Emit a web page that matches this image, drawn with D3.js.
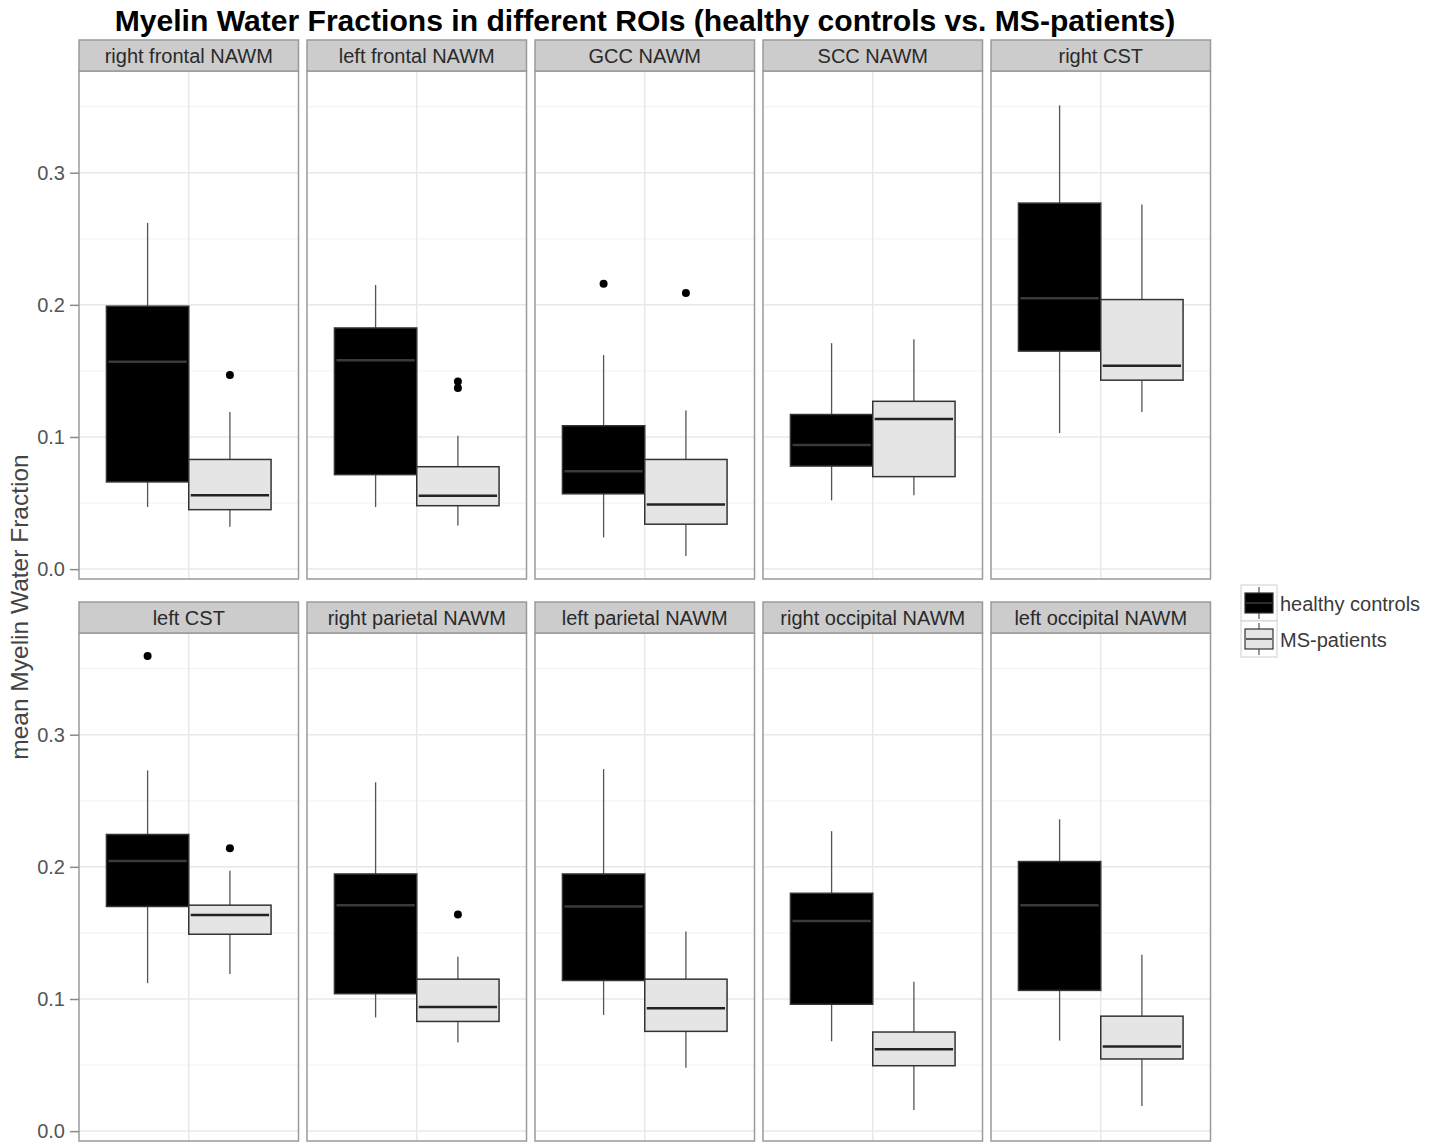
<!DOCTYPE html>
<html>
<head>
<meta charset="utf-8">
<script src="https://cdn.jsdelivr.net/npm/d3@7"></script>
<style>
  body { margin: 0; background: #fff; }
  svg { display: block; font-family: "Liberation Sans", Arial, sans-serif; }
</style>
</head>
<body>
<svg id="chart" width="1438" height="1143"></svg>
<script>
// ---------------- data ----------------
const rois = ["right frontal NAWM", "left frontal NAWM", "GCC NAWM", "SCC NAWM", "right CST",
              "left CST", "right parietal NAWM", "left parietal NAWM", "right occipital NAWM", "left occipital NAWM"];
const groups = ["healthy controls", "MS-patients"];

const hcLower    = [0.047, 0.047, 0.024, 0.052, 0.103, 0.112, 0.086, 0.088, 0.068, 0.0685];
const hcQ1       = [0.066, 0.0715, 0.057, 0.078, 0.165, 0.170, 0.104, 0.114, 0.096, 0.1065];
const hcMedian   = [0.157, 0.158, 0.074, 0.094, 0.205, 0.2045, 0.171, 0.170, 0.159, 0.171];
const hcQ3       = [0.199, 0.1825, 0.1085, 0.117, 0.277, 0.2245, 0.1946, 0.1946, 0.180, 0.204];
const hcUpper    = [0.262, 0.215, 0.162, 0.171, 0.351, 0.273, 0.264, 0.274, 0.227, 0.236];
const hcOutliers = [[], [], [0.216], [], [], [0.3595], [], [], [], []];

const msLower    = [0.032, 0.033, 0.010, 0.056, 0.119, 0.119, 0.067, 0.048, 0.016, 0.019];
const msQ1       = [0.045, 0.048, 0.034, 0.070, 0.143, 0.149, 0.083, 0.0755, 0.0495, 0.0546];
const msMedian   = [0.056, 0.0556, 0.049, 0.1136, 0.154, 0.1635, 0.094, 0.093, 0.062, 0.064];
const msQ3       = [0.083, 0.0775, 0.083, 0.127, 0.204, 0.171, 0.115, 0.115, 0.075, 0.087];
const msUpper    = [0.119, 0.101, 0.120, 0.174, 0.276, 0.197, 0.132, 0.151, 0.113, 0.1335];
const msOutliers = [[0.147], [0.142, 0.137], [0.209], [], [], [0.214], [0.164], [], [], []];

const yTicks = [0.0, 0.1, 0.2, 0.3];
const yMinorTicks = [0.05, 0.15, 0.25, 0.35];

const titleText = "Myelin Water Fractions in different ROIs (healthy controls vs. MS-patients)";
const yLabelText = "mean Myelin Water Fraction";

// ---------------- build stats table ----------------
const stats = rois.map((roi, i) => [
  { roi, group: groups[0], lower: hcLower[i], q1: hcQ1[i], median: hcMedian[i], q3: hcQ3[i], upper: hcUpper[i], outliers: hcOutliers[i] },
  { roi, group: groups[1], lower: msLower[i], q1: msQ1[i], median: msMedian[i], q3: msQ3[i], upper: msUpper[i], outliers: msOutliers[i] }
]);

// ---------------- layout ----------------
const svg = d3.select("#chart");
const nCols = 5;
const panelLeft0 = 79, panelStep = 228, panelW = 219.5;
const rowsLayout = [
  { stripTop: 40, plotTop: 71, plotBottom: 579 },
  { stripTop: 602, plotTop: 633, plotBottom: 1141 }
];

// y domain like ggplot: data range expanded by 5%
const allVals = stats.flat().flatMap(d => [d.lower, d.upper, ...d.outliers]);
const dMin = d3.min(allVals), dMax = d3.max(allVals);
const pad = (dMax - dMin) * 0.05;
const yDomain = [dMin - pad, dMax + pad];

const x = d3.scaleLinear().domain([0.4, 1.6]).range([0, panelW]);
const xOffset = d3.scaleOrdinal().domain(groups).range([-0.225, 0.225]);
const boxW = 0.45;
const fill = d3.scaleOrdinal().domain(groups).range(["#000000", "#e5e5e5"]);
const edge = "#333333";

// ---------------- title ----------------
const title = svg.append("text")
  .attr("x", 645).attr("y", 31)
  .attr("text-anchor", "middle")
  .attr("font-weight", "bold")
  .attr("font-size", 26)
  .attr("fill", "#000")
  .text(titleText);
const tl = title.node().getComputedTextLength();
title.attr("font-size", 26 * 1061 / tl);

// ---------------- panels ----------------
rois.forEach((roi, i) => {
  const row = Math.floor(i / nCols), col = i % nCols;
  const L = rowsLayout[row];
  const px = panelLeft0 + col * panelStep;
  const y = d3.scaleLinear().domain(yDomain).range([L.plotBottom, L.plotTop]);
  const g = svg.append("g").attr("transform", `translate(${px},0)`);

  g.append("rect").attr("x", 0).attr("y", L.plotTop).attr("width", panelW).attr("height", L.plotBottom - L.plotTop)
    .attr("fill", "#fff");

  g.selectAll(".minor").data(yMinorTicks.filter(t => t > yDomain[0] && t < yDomain[1])).enter().append("line")
    .attr("x1", 0).attr("x2", panelW).attr("y1", d => y(d)).attr("y2", d => y(d))
    .attr("stroke", "#f4f4f4").attr("stroke-width", 1.2);
  g.selectAll(".major").data(yTicks).enter().append("line")
    .attr("x1", 0).attr("x2", panelW).attr("y1", d => y(d)).attr("y2", d => y(d))
    .attr("stroke", "#e8e8e8").attr("stroke-width", 1.5);
  g.append("line").attr("x1", x(1)).attr("x2", x(1)).attr("y1", L.plotTop).attr("y2", L.plotBottom)
    .attr("stroke", "#e8e8e8").attr("stroke-width", 1.5);

  const bg = g.selectAll(".box").data(stats[i]).enter().append("g");
  const cx = d => x(1 + xOffset(d.group));
  bg.append("line").attr("x1", cx).attr("x2", cx).attr("y1", d => y(d.upper)).attr("y2", d => y(d.q3))
    .attr("stroke", "#555").attr("stroke-width", 1.3);
  bg.append("line").attr("x1", cx).attr("x2", cx).attr("y1", d => y(d.q1)).attr("y2", d => y(d.lower))
    .attr("stroke", "#555").attr("stroke-width", 1.3);
  bg.append("rect")
    .attr("x", d => x(1 + xOffset(d.group) - boxW / 2))
    .attr("width", d => x(1 + xOffset(d.group) + boxW / 2) - x(1 + xOffset(d.group) - boxW / 2))
    .attr("y", d => y(d.q3)).attr("height", d => y(d.q1) - y(d.q3))
    .attr("fill", d => fill(d.group)).attr("stroke", edge).attr("stroke-width", 1.5);
  bg.append("line")
    .attr("x1", d => x(1 + xOffset(d.group) - boxW / 2) + 2)
    .attr("x2", d => x(1 + xOffset(d.group) + boxW / 2) - 2)
    .attr("y1", d => y(d.median)).attr("y2", d => y(d.median))
    .attr("stroke", d => d.group === groups[0] ? "#3a3a3a" : "#222").attr("stroke-width", 2.5);
  bg.each(function(d) {
    d3.select(this).selectAll("circle").data(d.outliers).enter().append("circle")
      .attr("cx", cx(d)).attr("cy", v => y(v)).attr("r", 4).attr("fill", "#000");
  });

  g.append("rect").attr("x", 0).attr("y", L.plotTop).attr("width", panelW).attr("height", L.plotBottom - L.plotTop)
    .attr("fill", "none").attr("stroke", "#9a9a9a").attr("stroke-width", 1.5);

  g.append("rect").attr("x", 0).attr("y", L.stripTop).attr("width", panelW).attr("height", L.plotTop - L.stripTop)
    .attr("fill", "#cccccc").attr("stroke", "#9a9a9a").attr("stroke-width", 1.5);
  g.append("text").attr("x", panelW / 2).attr("y", (L.stripTop + L.plotTop) / 2 + 7)
    .attr("text-anchor", "middle").attr("font-size", 20).attr("fill", "#2a2a2a").text(roi);

  if (col === 0) {
    const ax = svg.append("g").attr("transform", `translate(${px},0)`)
      .call(d3.axisLeft(y).tickValues(yTicks).tickFormat(d3.format(".1f")).tickSize(9).tickPadding(5));
    ax.select(".domain").remove();
    ax.selectAll(".tick line").attr("stroke", "#8a8a8a").attr("stroke-width", 1.5);
    ax.selectAll(".tick text").attr("font-size", 20).attr("fill", "#555")
      .attr("font-family", "Liberation Sans, Arial, sans-serif");
  }
});

// ---------------- y label ----------------
svg.append("text")
  .attr("transform", "translate(28,607) rotate(-90)")
  .attr("text-anchor", "middle")
  .attr("font-size", 24.5)
  .attr("fill", "#444")
  .text(yLabelText);

// ---------------- legend ----------------
const legX = 1241, legY = 585, keyS = 36;
const lg = svg.append("g");
groups.forEach((grp, k) => {
  const ky = legY + k * keyS;
  lg.append("rect").attr("x", legX).attr("y", ky).attr("width", keyS).attr("height", keyS)
    .attr("fill", "#fff").attr("stroke", "#d0d0d0").attr("stroke-width", 1);
  const kcx = legX + keyS / 2;
  lg.append("line").attr("x1", kcx).attr("x2", kcx).attr("y1", ky + 2).attr("y2", ky + keyS - 2)
    .attr("stroke", "#555").attr("stroke-width", 1.2);
  lg.append("rect").attr("x", legX + 4).attr("y", ky + 8).attr("width", keyS - 8).attr("height", keyS - 16)
    .attr("fill", fill(grp)).attr("stroke", edge).attr("stroke-width", 1.2);
  lg.append("line").attr("x1", legX + 5).attr("x2", legX + keyS - 5).attr("y1", ky + keyS / 2).attr("y2", ky + keyS / 2)
    .attr("stroke", k === 0 ? "#3a3a3a" : "#333").attr("stroke-width", 1.5);
  lg.append("text").attr("x", legX + keyS + 3).attr("y", ky + keyS / 2 + 8)
    .attr("font-size", 20).attr("fill", "#3a3a3a").text(grp);
});
</script>
</body>
</html>
